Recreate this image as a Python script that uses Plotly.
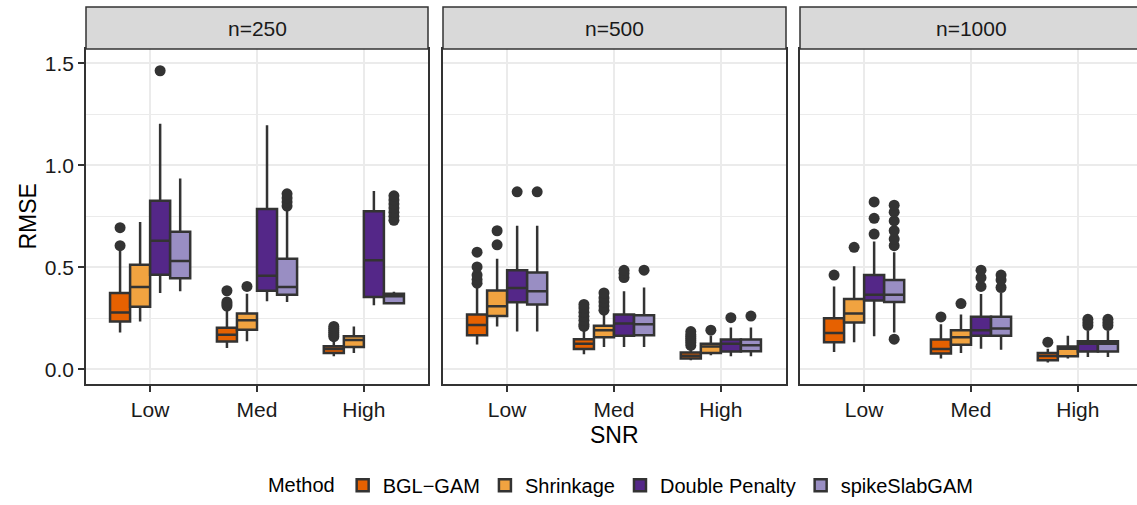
import plotly.graph_objects as go

# ---------------- data ----------------
FACETS = ["n=250", "n=500", "n=1000"]
SNR = ["Low", "Med", "High"]
METHODS = ["BGL\u2212GAM", "Shrinkage", "Double Penalty", "spikeSlabGAM"]
COLORS = ["#E66101", "#F1A340", "#542788", "#998EC3"]

# 9 values each: [n=250 Low, Med, High, n=500 Low, Med, High, n=1000 Low, Med, High]
BGL_LO = [0.181, 0.104, 0.064, 0.122, 0.074, 0.045, 0.085, 0.053, 0.034]
BGL_Q1 = [0.234, 0.136, 0.080, 0.167, 0.100, 0.053, 0.133, 0.077, 0.045]
BGL_MED = [0.278, 0.170, 0.100, 0.217, 0.125, 0.066, 0.178, 0.100, 0.065]
BGL_Q3 = [0.374, 0.204, 0.113, 0.269, 0.148, 0.083, 0.250, 0.146, 0.080]
BGL_HI = [0.580, 0.290, 0.150, 0.410, 0.200, 0.110, 0.406, 0.221, 0.101]
BGL_OUT = [[0.606, 0.694], [0.31, 0.32, 0.33, 0.385], [0.16, 0.17, 0.18, 0.19, 0.20, 0.21],
           [0.422, 0.44, 0.462, 0.502, 0.574], [0.21, 0.22, 0.24, 0.26, 0.28, 0.30, 0.318],
           [0.117, 0.13, 0.14, 0.15, 0.16, 0.17, 0.185],
           [0.462], [0.257], [0.133]]

SHR_LO = [0.234, 0.138, 0.080, 0.210, 0.109, 0.069, 0.133, 0.080, 0.053]
SHR_Q1 = [0.307, 0.194, 0.109, 0.261, 0.157, 0.080, 0.230, 0.120, 0.064]
SHR_MED = [0.403, 0.241, 0.144, 0.309, 0.192, 0.112, 0.273, 0.157, 0.101]
SHR_Q3 = [0.513, 0.274, 0.162, 0.386, 0.213, 0.125, 0.345, 0.192, 0.112]
SHR_HI = [0.722, 0.370, 0.210, 0.542, 0.270, 0.165, 0.505, 0.269, 0.165]
SHR_OUT = [[], [0.406], [],
           [0.610, 0.679], [0.29, 0.31, 0.33, 0.35, 0.374], [0.192],
           [0.598], [0.322], []]

DP_LO = [0.374, 0.334, 0.314, 0.186, 0.109, 0.064, 0.162, 0.101, 0.061]
DP_Q1 = [0.464, 0.385, 0.354, 0.329, 0.165, 0.088, 0.337, 0.165, 0.088]
DP_MED = [0.630, 0.459, 0.534, 0.398, 0.224, 0.125, 0.366, 0.192, 0.125]
DP_Q3 = [0.826, 0.786, 0.775, 0.486, 0.269, 0.146, 0.462, 0.258, 0.138]
DP_HI = [1.203, 1.196, 0.874, 0.703, 0.382, 0.205, 0.626, 0.369, 0.189]
DP_OUT = [[1.463], [], [],
          [0.870], [0.45, 0.47, 0.485], [0.253],
          [0.663, 0.740, 0.820], [0.406, 0.449, 0.486], [0.215, 0.23, 0.245]]

SS_LO = [0.382, 0.330, 0.318, 0.186, 0.109, 0.064, 0.181, 0.096, 0.061]
SS_Q1 = [0.446, 0.366, 0.324, 0.318, 0.167, 0.089, 0.330, 0.165, 0.088]
SS_MED = [0.531, 0.403, 0.358, 0.382, 0.221, 0.118, 0.366, 0.200, 0.125]
SS_Q3 = [0.674, 0.542, 0.370, 0.475, 0.265, 0.146, 0.438, 0.258, 0.138]
SS_HI = [0.935, 0.783, 0.380, 0.703, 0.401, 0.205, 0.574, 0.374, 0.189]
SS_OUT = [[], [0.80, 0.82, 0.84, 0.86], [0.73, 0.75, 0.77, 0.79, 0.81, 0.83, 0.85],
          [0.870], [0.486], [0.261],
          [0.148, 0.606, 0.638, 0.679, 0.727, 0.770, 0.804], [0.401, 0.438, 0.462], [0.215, 0.23, 0.245]]

Y_TICKS = [0.0, 0.5, 1.0, 1.5]
Y_TICKTEXT = ["0.0", "0.5", "1.0", "1.5"]

STATS = [
    (BGL_LO, BGL_Q1, BGL_MED, BGL_Q3, BGL_HI, BGL_OUT),
    (SHR_LO, SHR_Q1, SHR_MED, SHR_Q3, SHR_HI, SHR_OUT),
    (DP_LO, DP_Q1, DP_MED, DP_Q3, DP_HI, DP_OUT),
    (SS_LO, SS_Q1, SS_MED, SS_Q3, SS_HI, SS_OUT),
]

# ---------------- layout geometry ----------------
W, H = 1137, 505
PANELS_PX = [(86, 428), (443, 786), (800, 1142)]
TOP_PX, BOT_PX = 50, 391
STRIP_TOP_PX = 7
DODGE = 0.75
BOX_W = DODGE / len(METHODS)
LINE = "#333333"
FONT = "Liberation Sans, Arial, Helvetica, sans-serif"

fig = go.Figure()

for f in range(len(FACETS)):
    sfx = "" if f == 0 else str(f + 1)
    for m, (lo, q1, med, q3, hi, out) in enumerate(STATS):
        idx = [f * 3 + s for s in range(3)]
        pos = [s + 1 + (m - (len(METHODS) - 1) / 2) * BOX_W for s in range(3)]
        fig.add_trace(go.Box(
            x=pos,
            lowerfence=[lo[i] for i in idx],
            q1=[q1[i] for i in idx],
            median=[med[i] for i in idx],
            q3=[q3[i] for i in idx],
            upperfence=[hi[i] for i in idx],
            orientation="v",
            width=BOX_W,
            whiskerwidth=0,
            boxpoints=False,
            fillcolor=COLORS[m],
            line=dict(color=LINE, width=2.5),
            name=METHODS[m],
            legendgroup=METHODS[m],
            showlegend=(f == 0),
            xaxis="x" + sfx, yaxis="y" + sfx,
        ))
        ox, oy = [], []
        for s, i in enumerate(idx):
            for v in out[i]:
                ox.append(pos[s])
                oy.append(v)
        if oy:
            fig.add_trace(go.Scatter(
                x=ox, y=oy, mode="markers",
                marker=dict(color=LINE, size=11, line=dict(width=0)),
                showlegend=False, legendgroup=METHODS[m],
                hoverinfo="y",
                xaxis="x" + sfx, yaxis="y" + sfx,
            ))

y_dom = [1 - BOT_PX / H, 1 - TOP_PX / H]
layout = dict(
    width=W, height=H,
    margin=dict(l=0, r=0, t=0, b=0),
    paper_bgcolor="white", plot_bgcolor="white",
    font=dict(family=FONT, size=20, color="#1A1A1A"),
    showlegend=True,
    legend=dict(
        orientation="h", x=0.547, xanchor="center", y=1 - 494 / H, yanchor="middle",
        title=dict(text="Method", font=dict(size=20, color="#000000"), side="left"),
        font=dict(size=20, color="#000000"),
        itemwidth=30, tracegroupgap=0,
    ),
)

shapes = []
annotations = []
unit = (PANELS_PX[0][1] - PANELS_PX[0][0]) / 3.2
for f, (x0, x1) in enumerate(PANELS_PX):
    sfx = "" if f == 0 else str(f + 1)
    d1 = min(x1, W)
    xr = [0.4, 0.4 + (d1 - x0) / unit]
    layout["xaxis" + sfx] = dict(
        domain=[x0 / W, d1 / W], range=xr, anchor="y" + sfx,
        tickvals=[1, 2, 3], ticktext=SNR,
        showgrid=True, gridcolor="#EBEBEB", gridwidth=1.5,
        zeroline=False,
        showline=True, mirror=True, linecolor=LINE, linewidth=1.5,
        ticks="outside", ticklen=6, tickwidth=1.5, tickcolor=LINE,
        tickfont=dict(size=21, color="#1A1A1A"),
    )
    layout["yaxis" + sfx] = dict(
        domain=y_dom, range=[-0.072, 1.569], anchor="x" + sfx,
        tickvals=Y_TICKS, ticktext=Y_TICKTEXT,
        showticklabels=(f == 0),
        ticks="outside" if f == 0 else "", ticklen=6, tickwidth=1.5, tickcolor=LINE,
        tickfont=dict(size=21, color="#1A1A1A"),
        showgrid=True, gridcolor="#EBEBEB", gridwidth=1.5,
        minor=dict(dtick=0.25, tick0=0, showgrid=True, gridcolor="#EBEBEB", gridwidth=0.8),
        zeroline=False,
        showline=True, mirror=(f != 2), linecolor=LINE, linewidth=1.5,
    )
    shapes.append(dict(
        type="rect", xref="paper", yref="paper",
        x0=x0 / W, x1=x1 / W, y0=1 - TOP_PX / H, y1=1 - STRIP_TOP_PX / H,
        fillcolor="#D9D9D9", line=dict(color=LINE, width=1.5), layer="above",
    ))
    annotations.append(dict(
        text=FACETS[f], xref="paper", yref="paper",
        x=(x0 + x1) / 2 / W, y=1 - (TOP_PX + STRIP_TOP_PX + 2) / 2 / H,
        xanchor="center", yanchor="middle", showarrow=False,
        font=dict(size=21, color="#1A1A1A"),
    ))

annotations.append(dict(
    text="SNR", xref="paper", yref="paper",
    x=(PANELS_PX[1][0] + PANELS_PX[1][1]) / 2 / W, y=1 - 443 / H,
    xanchor="center", yanchor="middle", showarrow=False,
    font=dict(size=23, color="#000000"),
))
annotations.append(dict(
    text="RMSE", xref="paper", yref="paper",
    x=28 / W, y=1 - (TOP_PX + BOT_PX) / 2 / H, textangle=-90,
    xanchor="center", yanchor="middle", showarrow=False,
    font=dict(size=23, color="#000000"),
))

layout["shapes"] = shapes
layout["annotations"] = annotations
fig.update_layout(**layout)

fig.write_html(
    "out.html",
    config={"displayModeBar": False},
    post_script="document.body.style.margin='0';document.body.style.overflow='hidden';",
)
